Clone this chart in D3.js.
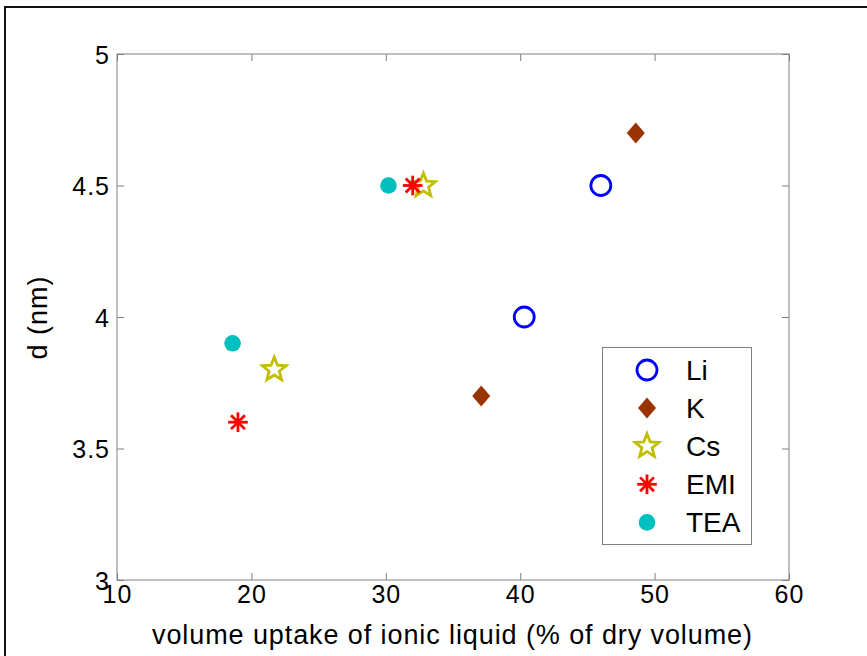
<!DOCTYPE html>
<html><head><meta charset="utf-8">
<script src="https://cdn.jsdelivr.net/npm/d3@7"></script>
<style>body{margin:0;background:#fff}svg{display:block}text{font-family:"Liberation Sans",Arial,sans-serif}</style>
</head><body><svg id="c" width="867" height="656"></svg>
<script>
const seriesNames = ["Li","K","Cs","EMI","TEA"];
const liX = [46.0, 40.3], liY = [4.5, 4.0];
const kX = [48.6, 37.1], kY = [4.7, 3.7];
const csX = [32.8, 21.7], csY = [4.5, 3.8];
const emiX = [32.0, 19.0], emiY = [4.5, 3.6];
const teaX = [30.2, 18.6], teaY = [4.5, 3.9];
const xTicks = [10,20,30,40,50,60];
const yTicks = [3,3.5,4,4.5,5];
const xLabel = "volume uptake of ionic liquid (% of dry volume)";
const yLabel = "d (nm)";

const svg = d3.select("#c");
const L=117,R=789,T=54,B=580;
const x = d3.scaleLinear().domain([10,60]).range([L,R]);
const y = d3.scaleLinear().domain([3,5]).range([B,T]);

// outer frame
svg.append("line").attr("x1",4).attr("x2",867).attr("y1",7).attr("y2",7).attr("stroke","#111").attr("stroke-width",2);
svg.append("line").attr("x1",5).attr("x2",5).attr("y1",6).attr("y2",656).attr("stroke","#111").attr("stroke-width",2);

const axColor="#808080";
const g=svg.append("g");
g.append("rect").attr("x",L).attr("y",T).attr("width",R-L).attr("height",B-T).attr("fill","none").attr("stroke",axColor).attr("stroke-width",1);

const tl=7, fsTick=25;
const xb=g.append("g").attr("transform",`translate(0,${B})`).call(d3.axisBottom(x).tickValues(xTicks).tickSize(-tl).tickFormat(d3.format("d")));
const xt=g.append("g").attr("transform",`translate(0,${T})`).call(d3.axisTop(x).tickValues(xTicks).tickSize(-tl).tickFormat(""));
const yl=g.append("g").attr("transform",`translate(${L},0)`).call(d3.axisLeft(y).tickValues(yTicks).tickSize(-tl).tickPadding(7).tickFormat(d=>d3.format("")(d)));
const yr=g.append("g").attr("transform",`translate(${R},0)`).call(d3.axisRight(y).tickValues(yTicks).tickSize(-tl).tickFormat(""));
[xb,xt,yl,yr].forEach(a=>{a.select(".domain").remove();a.selectAll(".tick line").attr("stroke",axColor);a.selectAll("text").attr("fill","#000").attr("font-size",fsTick).attr("font-family","Liberation Sans, Arial, sans-serif").attr("letter-spacing",1);});
xb.selectAll("text").attr("y",23).attr("dy",0);
yl.selectAll("text").attr("dy","0.36em");

svg.append("text").attr("x",(L+R)/2-1).attr("y",644).attr("text-anchor","middle").attr("font-size",27).attr("textLength",600).attr("lengthAdjust","spacing").text(xLabel);
svg.append("text").attr("transform",`translate(47,318) rotate(-90)`).attr("text-anchor","middle").attr("font-size",27).attr("textLength",83).attr("lengthAdjust","spacing").text(yLabel);

function starPath(ro,ri){let p=[];for(let i=0;i<10;i++){const r=i%2?ri:ro;const a=-Math.PI/2+i*Math.PI/5;p.push([r*Math.cos(a),r*Math.sin(a)]);}return "M"+p.map(q=>q.join(",")).join("L")+"Z";}
const markers={
 Li:(s)=>s.append("circle").attr("r",10).attr("fill","none").attr("stroke","#0000ff").attr("stroke-width",2.8),
 K:(s)=>s.append("path").attr("d","M0,-10.5L9,0L0,10.5L-9,0Z").attr("fill","#993300"),
 Cs:(s)=>s.append("path").attr("d",starPath(12.5,5.4)).attr("fill","none").attr("stroke","#bfbf00").attr("stroke-width",2.8).attr("stroke-linejoin","miter"),
 EMI:(s)=>{const r=9.8;for(let i=0;i<4;i++){const a=i*Math.PI/4;s.append("line").attr("x1",-r*Math.cos(a)).attr("y1",-r*Math.sin(a)).attr("x2",r*Math.cos(a)).attr("y2",r*Math.sin(a)).attr("stroke","#ff0000").attr("stroke-width",2.8);}},
 TEA:(s)=>s.append("circle").attr("r",8.3).attr("fill","#00bfbf")
};
const data={Li:[liX,liY],K:[kX,kY],Cs:[csX,csY],EMI:[emiX,emiY],TEA:[teaX,teaY]};
const plot=svg.append("g");
seriesNames.forEach(n=>{const [xs,ys]=data[n];xs.forEach((v,i)=>{const s=plot.append("g").attr("transform",`translate(${x(v)},${y(ys[i])})`);markers[n](s);});});

// legend
const lg=svg.append("g");
lg.append("rect").attr("x",602.5).attr("y",347.5).attr("width",149).attr("height",197).attr("fill","#fff").attr("stroke",axColor);
seriesNames.forEach((n,i)=>{const cy=370+i*38.1;const s=lg.append("g").attr("transform",`translate(647,${cy})`);markers[n](s);
 lg.append("text").attr("x",686).attr("y",cy).attr("dy","0.36em").attr("font-size",28).text(n);});
</script></body></html>
